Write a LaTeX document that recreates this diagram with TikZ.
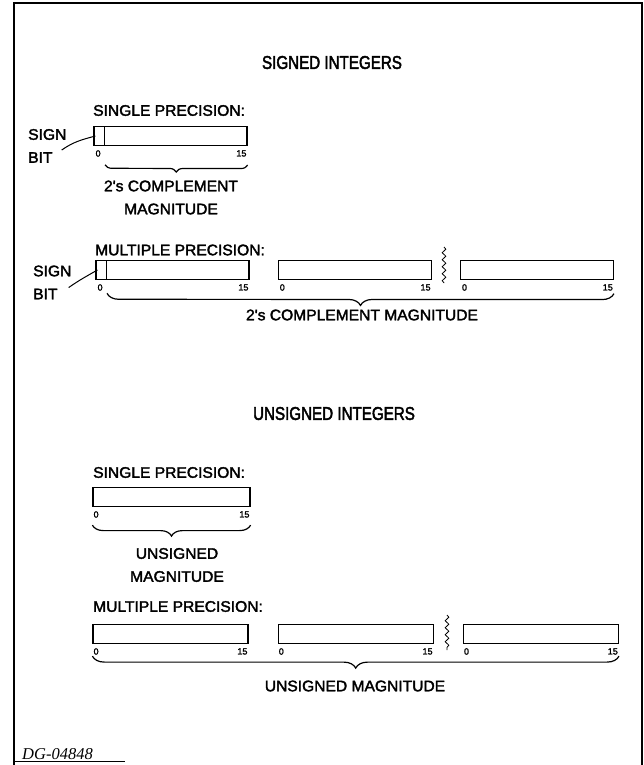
\documentclass[tikz,border=0pt]{standalone}
\usepackage{fontspec}
\setmainfont{Liberation Sans}
\newfontfamily\lblfont[FakeStretch=1.02,FakeBold=2.2]{Liberation Sans}
\newfontfamily\ttlfont[FakeStretch=0.82,FakeBold=2.4]{Liberation Sans}
\newfontfamily\numfont[FakeBold=1.8]{Liberation Sans}
\newfontfamily\idfont{Liberation Serif}
\usetikzlibrary{positioning, decorations.pathreplacing, decorations.pathmorphing}

\begin{document}
\begin{tikzpicture}[
        x=1pt, y=-1pt,
        every node/.style={inner sep=0pt},
        title/.style={font=\ttlfont\fontsize{18.5}{21}\selectfont},
        lbl/.style={font=\lblfont\fontsize{15.3}{23}\selectfont},
        head/.style={lbl, anchor=west},
        word/.style={draw, line width=1.2pt, minimum height=19pt},
        signcell/.style={draw, line width=0.6pt, minimum width=11pt, minimum height=19pt, anchor=west},
        bitno/.style={font=\numfont\fontsize{9}{10}\selectfont},
        pointer/.style={line width=1pt},
        magbrace/.style={decorate, decoration={brace, mirror, amplitude=#1}, line width=1.2pt},
        magbrace/.default=8pt,
        squiggle/.style={decorate, decoration={snake, segment length=7pt, amplitude=1.8pt}, line width=0.8pt}
    ]
    \useasboundingbox (0,0) rectangle (644,765);
    \draw[line width=1.3pt] (14,765) -- (14,3) -- (642,3) -- (642,765);
    \draw[line width=0.8pt] (14,761) -- (125,761);

    \node[title] (stitle) at (332,62.5) {SIGNED INTEGERS};

    \node[head] (s1head) at (93,110.5) {SINGLE PRECISION:};
    \node[word, minimum width=153pt] (s1) at (170.5,136) {};
    \node[signcell] (s1sign) at (s1.west) {};
    \node[bitno, below right=4pt and 2pt of s1.south west] (s1-lo) {0};
    \node[bitno, below left=4pt and 1pt of s1.south east] (s1-hi) {15};
    \node[lbl, anchor=west] (s1sgn) at (28,134.5) {SIGN};
    \node[lbl, anchor=west] (s1bit) at (28,157.5) {BIT};
    \draw[pointer] ([shift={(9,-2)}]s1bit.north east) to[out=35, in=195] ([xshift=2pt]s1sign.west);
    \draw[magbrace=7pt] ([yshift=-19pt]s1sign.south east) -- ([yshift=-19pt]s1.south east);
    \node[lbl, align=center] (s1mag) at (171,197.5) {2's COMPLEMENT\\MAGNITUDE};

    \node[head] (m1head) at (95,250) {MULTIPLE PRECISION:};
    \node[word, minimum width=153pt] (m1) at (172.5,270) {};
    \node[signcell] (m1sign) at (m1.west) {};
    \node[word, minimum width=153pt, right=28pt of m1] (m2) {};
    \node[word, minimum width=153pt, right=28pt of m2] (m3) {};
    \foreach \w in {m1,m2,m3} {
        \node[bitno, below right=4pt and 2pt of \w.south west] (\w-lo) {0};
        \node[bitno, below left=4pt and 1pt of \w.south east] (\w-hi) {15};
    }
    \draw[squiggle] (444,247) -- (444,283);
    \node[lbl, anchor=west] (m1sgn) at (33,271) {SIGN};
    \node[lbl, anchor=west] (m1bit) at (33,294) {BIT};
    \draw[pointer] ([shift={(11,-1)}]m1bit.north east) to[out=35, in=210] ([xshift=2pt]m1sign.west);
    \draw[magbrace=12pt] ([yshift=-13.5pt]m1sign.south east) -- ([yshift=-13.5pt]m3.south east);
    \node[lbl] (mmag) at (362,315) {2's COMPLEMENT MAGNITUDE};

    \node[title] (utitle) at (334,413.5) {UNSIGNED INTEGERS};

    \node[head] (u1head) at (93,472.5) {SINGLE PRECISION:};
    \node[word, minimum width=157pt] (u1) at (171.5,497) {};
    \node[bitno, below right=4pt and 1pt of u1.south west] (u1-lo) {0};
    \node[bitno, below left=4pt and 1pt of u1.south east] (u1-hi) {15};
    \draw[magbrace=11pt] ([yshift=-18pt]u1.south west) -- ([yshift=-18pt]u1.south east);
    \node[lbl, align=center] (u1mag) at (177,565) {UNSIGNED\\MAGNITUDE};

    \node[head] (n1head) at (93,606.5) {MULTIPLE PRECISION:};
    \node[word, minimum width=155pt] (n1) at (170.5,634) {};
    \node[word, minimum width=155pt, right=29pt of n1] (n2) {};
    \node[word, minimum width=155pt, right=29pt of n2] (n3) {};
    \foreach \w in {n1,n2,n3} {
        \node[bitno, below right=4pt and 1pt of \w.south west] (\w-lo) {0};
        \node[bitno, below left=4pt and 1pt of \w.south east] (\w-hi) {15};
    }
    \draw[squiggle] (447,615) -- (447,650);
    \draw[magbrace=12pt] ([yshift=-12pt]n1.south west) -- ([yshift=-12pt]n3.south east);
    \node[lbl] (nmag) at (355,686) {UNSIGNED MAGNITUDE};

    \node[font=\idfont\itshape\fontsize{16.5}{18}\selectfont, anchor=west] (dg) at (22,754) {DG-04848};
\end{tikzpicture}
\end{document}
